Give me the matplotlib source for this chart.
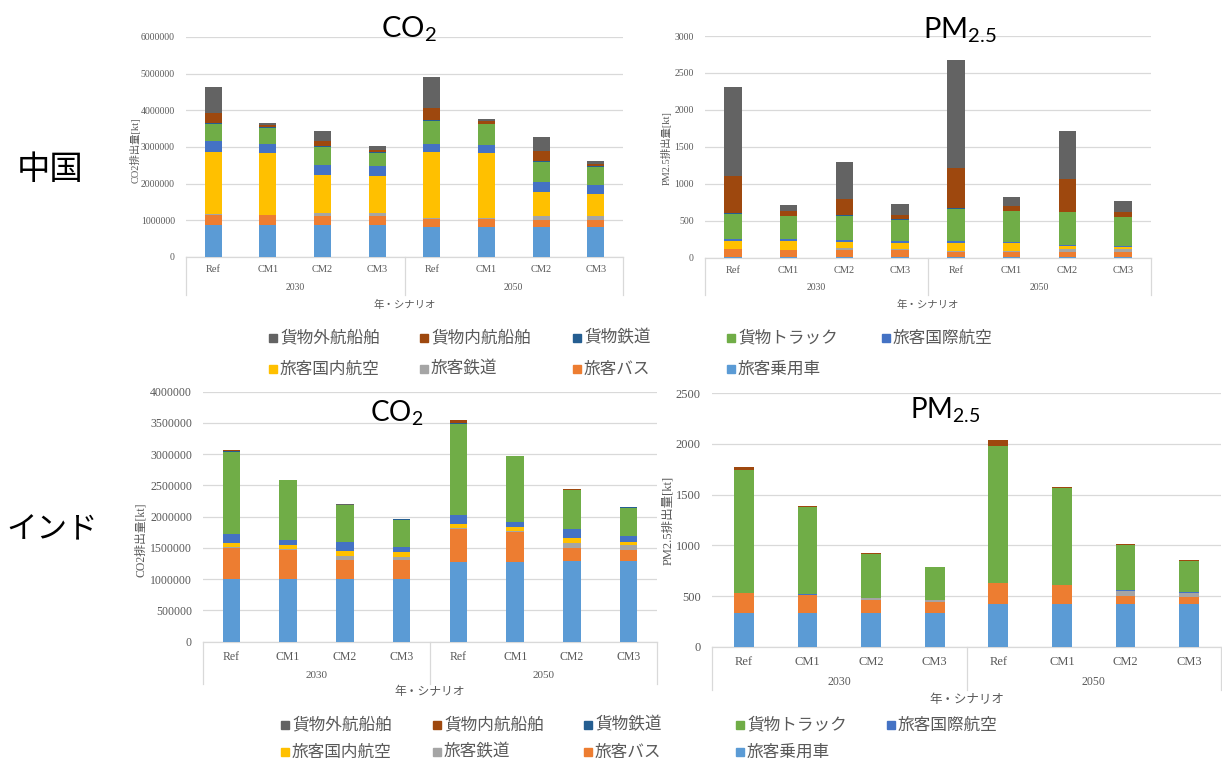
import matplotlib
matplotlib.use("Agg")
import matplotlib.pyplot as plt
from matplotlib.patches import Rectangle
from matplotlib.lines import Line2D
from matplotlib import transforms

# ---------------------------------------------------------------- data
scenarios = ["Ref", "CM1", "CM2", "CM3", "Ref", "CM1", "CM2", "CM3"]
years = ["2030", "2050"]

# stacking order, bottom to top
series = ["旅客乗用車", "旅客バス", "旅客鉄道", "旅客国内航空", "旅客国際航空",
          "貨物トラック", "貨物鉄道", "貨物内航船舶", "貨物外航船舶"]
colors = ["#5B9BD5", "#ED7D31", "#A5A5A5", "#FFC000", "#4472C4",
          "#70AD47", "#255E91", "#9E480E", "#636363"]

# legend layout (two rows, as listed)
legend_row1 = ["貨物外航船舶", "貨物内航船舶", "貨物鉄道", "貨物トラック", "旅客国際航空"]
legend_row2 = ["旅客国内航空", "旅客鉄道", "旅客バス", "旅客乗用車"]

# China, CO2 emissions [kt]; rows follow `series`
cn_co2 = [
    [860000, 860000, 860000, 860000, 820000, 820000, 820000, 820000],
    [290000, 280000, 270000, 270000, 225000, 215000, 200000, 200000],
    [15000, 15000, 80000, 70000, 15000, 15000, 110000, 110000],
    [1700000, 1685000, 1035000, 1000000, 1795000, 1786000, 640000, 600000],
    [290000, 250000, 275000, 270000, 235000, 220000, 265000, 225000],
    [480000, 435000, 480000, 375000, 620000, 560000, 565000, 495000],
    [20000, 20000, 20000, 20000, 20000, 20000, 20000, 20000],
    [275000, 55000, 135000, 66000, 330000, 74000, 270000, 75000],
    [706000, 55000, 290000, 90000, 850000, 60000, 380000, 65000],
]

# China, PM2.5 emissions [kt]
cn_pm = [
    [8, 8, 8, 8, 8, 8, 8, 8],
    [105, 96, 100, 96, 73, 73, 73, 73],
    [3, 3, 27, 18, 3, 3, 32, 32],
    [114, 114, 72, 81, 119, 110, 49, 31],
    [27, 32, 32, 27, 18, 14, 14, 14],
    [340, 312, 331, 286, 444, 421, 439, 394],
    [3, 3, 3, 3, 3, 3, 3, 3],
    [510, 59, 221, 54, 541, 67, 447, 63],
    [1204, 86, 501, 153, 1466, 126, 649, 149],
]

# India, CO2 emissions [kt]
in_co2 = [
    [1000000, 1000000, 1000000, 1000000, 1280000, 1280000, 1290000, 1290000],
    [500000, 467000, 307000, 307000, 523000, 480000, 203000, 177000],
    [10000, 10000, 69000, 53000, 10000, 10000, 80000, 80000],
    [65000, 70000, 75000, 70000, 64000, 70000, 91000, 53000],
    [144000, 80000, 138000, 79000, 150000, 80000, 133000, 91000],
    [1322000, 955000, 593000, 443000, 1461000, 1046000, 625000, 453000],
    [5000, 5000, 5000, 5000, 5000, 5000, 5000, 5000],
    [17000, 5000, 8000, 3000, 48000, 5000, 10000, 3000],
    [2000, 2000, 2000, 2000, 2000, 2000, 2000, 2000],
]

# India, PM2.5 emissions [kt]
in_pm = [
    [330, 330, 330, 330, 420, 420, 420, 420],
    [196, 180, 131, 114, 205, 188, 80, 73],
    [3, 3, 16, 17, 3, 3, 53, 40],
    [1, 1, 1, 1, 1, 1, 1, 1],
    [1, 1, 1, 1, 1, 1, 1, 1],
    [1211, 866, 434, 319, 1348, 955, 446, 312],
    [2, 2, 2, 2, 2, 2, 2, 2],
    [27, 3, 10, 2, 59, 3, 10, 2],
    [1, 1, 1, 1, 1, 1, 1, 1],
]

# ---------------------------------------------------------------- figure
W, H = 1222, 762
fig = plt.figure(figsize=(W / 100, H / 100), dpi=100)
fig.patch.set_facecolor("white")

GRID = "#D9D9D9"
TXT = "#595959"
SERIF = ["Liberation Serif", "Noto Sans CJK JP"]
JP = ["Noto Sans CJK JP", "DejaVu Sans"]


def fx(px):
    return px / W


def fy(py):
    return 1 - py / H


def panel(values, left, right, top, bottom, ymax, step, ylabel, ylabel_xy,
          title, title_xy, tick_fs, cat_y, year_y, xlab_y, sep_bottom, cat_fs):
    ax = fig.add_axes([fx(left), fy(bottom), (right - left) / W, (bottom - top) / H])
    xs = list(range(len(scenarios)))
    base = [0] * len(xs)
    for name, col, vals in zip(series, colors, values):
        ax.bar(xs, vals, width=0.31, bottom=base, color=col, linewidth=0, zorder=3)
        base = [b + v for b, v in zip(base, vals)]

    ax.set_xlim(-0.5, len(xs) - 0.5)
    ax.set_ylim(0, ymax)
    ax.set_yticks([step * i for i in range(int(round(ymax / step)) + 1)])
    ax.yaxis.set_major_formatter(matplotlib.ticker.FuncFormatter(lambda v, p: f"{int(round(v))}"))
    ax.grid(axis="y", color=GRID, linewidth=0.9, zorder=0)
    for s in ("top", "right", "left"):
        ax.spines[s].set_visible(False)
    ax.spines["bottom"].set_color(GRID)
    ax.spines["bottom"].set_linewidth(0.9)
    ax.tick_params(axis="y", length=0, pad=8, labelsize=tick_fs, labelcolor=TXT)
    for lab in ax.get_yticklabels():
        lab.set_fontfamily("Liberation Serif")

    ax.set_xticks([])
    trans = transforms.blended_transform_factory(ax.transData, fig.transFigure)
    for x, s in zip(xs, scenarios):
        fig.text(x, fy(cat_y), s, transform=trans, ha="center", va="center",
                 fontsize=cat_fs, color=TXT, family="Liberation Serif")
    for g, yr in enumerate(years):
        fig.text(g * 4 + 1.5, fy(year_y), yr, transform=trans, ha="center",
                 va="center", fontsize=cat_fs - 0.5, color=TXT, family="Liberation Serif")
    for xsep in (-0.5, 3.5, 7.5):
        fig.add_artist(Line2D([xsep, xsep], [fy(bottom), fy(sep_bottom)],
                              transform=trans, color=GRID, linewidth=0.9))
    fig.text(fx((left + right) / 2), fy(xlab_y), "年・シナリオ", ha="center",
             va="center", fontsize=cat_fs, color=TXT, family=JP)
    fig.text(fx(ylabel_xy[0]), fy(ylabel_xy[1]), ylabel, rotation=90,
             ha="center", va="center", fontsize=cat_fs, color=TXT, family=SERIF)
    fig.text(fx(title_xy[0]), fy(title_xy[1]), title, ha="center", va="center",
             fontsize=title_xy[2], color="black", family="Lato")
    return ax


panel(cn_co2, 186, 623, 37, 257, 6000000, 1000000, "CO2排出量[kt]", (135, 150),
      r"$\mathregular{CO_2}$", (409, 29, 21), 7, 270, 288, 305, 295, 7.5)
panel(cn_pm, 705, 1151, 36, 257.7, 3000, 500, "PM2.5排出量[kt]", (666, 148),
      r"$\mathregular{PM_{2.5}}$", (960, 30, 21), 7, 271, 288, 305, 295, 7.5)
panel(in_co2, 203, 657, 391.7, 641.7, 4000000, 500000, "CO2排出量[kt]", (141, 540),
      r"$\mathregular{CO_2}$", (397, 413, 20), 8.5, 657, 675, 692, 684, 8.5)
panel(in_pm, 712, 1221, 393.3, 646.7, 2500, 500, "PM2.5排出量[kt]", (668, 520),
      r"$\mathregular{PM_{2.5}}$", (945, 410, 20), 9, 662, 682, 700, 690, 9)

# row labels
fig.text(fx(50), fy(170), "中国", ha="center", va="center", fontsize=24, family=JP)
fig.text(fx(52), fy(530), "インド", ha="center", va="center", fontsize=22, family=JP)


# legends
def legend(xs, row_ys):
    color_of = dict(zip(series, colors))
    for row, py in zip((legend_row1, legend_row2), row_ys):
        for name, px in zip(row, xs):
            sz = 8
            fig.add_artist(Rectangle((fx(px - sz / 2), fy(py + sz / 2)), sz / W, sz / H,
                                     transform=fig.transFigure, color=color_of[name]))
            fig.text(fx(px + 7), fy(py), name, ha="left", va="center",
                     fontsize=12, color=TXT, family=JP)


legend([273, 424, 577, 731, 886], [338, 369])
legend([285, 437, 588, 740, 891], [725, 752])

fig.savefig("out.png", dpi=100, facecolor="white")
